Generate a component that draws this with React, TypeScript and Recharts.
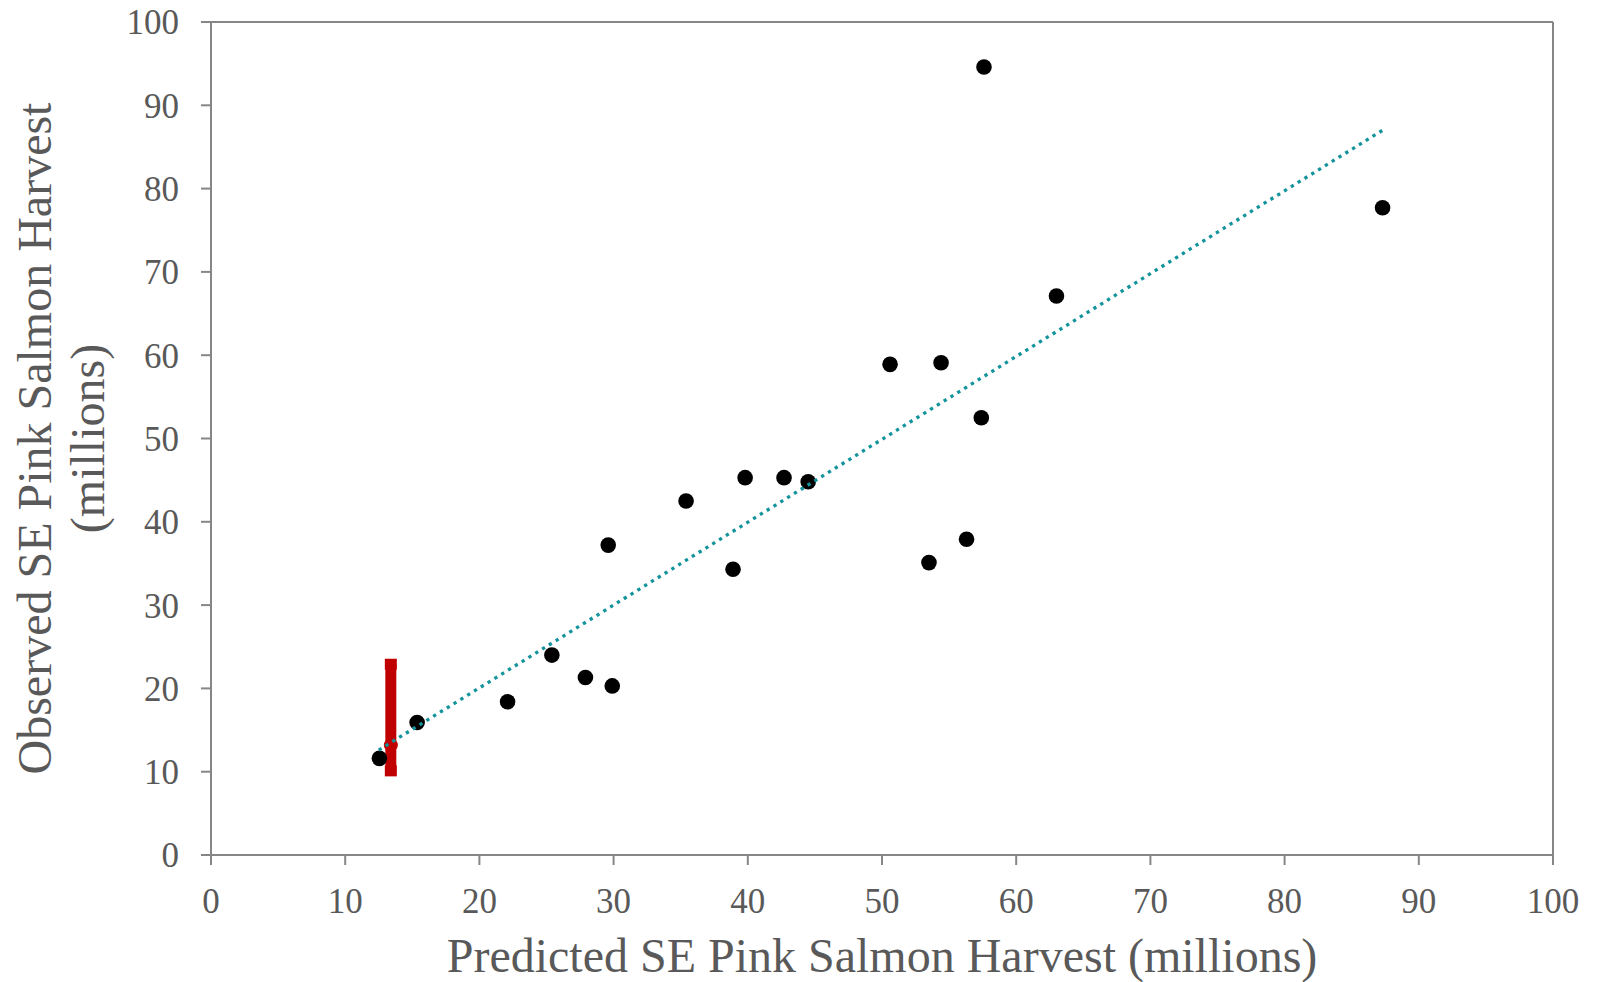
import {
  ScatterChart,
  Scatter,
  XAxis,
  YAxis,
  ErrorBar,
  ReferenceLine,
} from "recharts";

const predicted = [
  12.55, 15.36, 22.1, 25.4, 27.9, 29.9, 29.6, 35.4, 38.9, 39.8,
  42.7, 44.5, 50.6, 54.4, 53.5, 56.3, 57.4, 57.6, 63.0, 87.3,
];
const observed = [
  11.6, 15.9, 18.4, 24.0, 21.3, 20.3, 37.2, 42.5, 34.3, 45.3,
  45.3, 44.8, 58.9, 59.1, 35.1, 37.9, 52.5, 94.6, 67.1, 77.7,
];

// forecast point with its range
const forecastX = [13.4];
const forecastY = [13.2];
const forecastErr = [[3.1, 9.7]];

// dotted trend line end points
const trendX = [12.5, 87.3];
const trendY = [12.6, 87.0];

const ticks = [0, 10, 20, 30, 40, 50, 60, 70, 80, 90, 100];

const points = predicted.map((x, i) => ({ x, y: observed[i] }));
const forecast = forecastX.map((x, i) => ({ x, y: forecastY[i], err: forecastErr[i] }));
const trend = trendX.map((x, i) => ({ x, y: trendY[i] }));

const AXIS = "#868686";
const TEXT = "#595959";
const FONT = "Liberation Serif, Times New Roman, serif";

const XTitle = (props: any) => {
  const { x, y, width } = props.viewBox;
  return (
    <text x={x + width / 2} y={y + 117} textAnchor="middle" fill={TEXT} fontSize={48} fontFamily={FONT}>
      Predicted SE Pink Salmon Harvest (millions)
    </text>
  );
};

const YTitle = (props: any) => {
  const { y, height } = props.viewBox;
  const cy = y + height / 2;
  return (
    <g fill={TEXT} fontSize={48} fontFamily={FONT}>
      <text x={51} y={cy} textAnchor="middle" transform={`rotate(-90, 51, ${cy})`}>
        Observed SE Pink Salmon Harvest
      </text>
      <text x={104} y={cy} textAnchor="middle" transform={`rotate(-90, 104, ${cy})`}>
        (millions)
      </text>
    </g>
  );
};

export default function App() {
  return (
    <div style={{ position: "absolute", left: 0, top: 0, background: "#fff" }}>
      <ScatterChart
        width={1600}
        height={982}
        margin={{ top: 22, right: 47, bottom: 0, left: 0 }}
      >
        <XAxis
          type="number"
          dataKey="x"
          domain={[0, 100]}
          ticks={ticks}
          interval={0}
          height={127}
          tickSize={10}
          tickMargin={23}
          stroke={AXIS}
          strokeWidth={2}
          tick={{ fill: TEXT, fontSize: 35, fontFamily: FONT }}
          label={<XTitle />}
        />
        <YAxis
          type="number"
          dataKey="y"
          domain={[0, 100]}
          ticks={ticks}
          interval={0}
          width={211}
          tickSize={10}
          tickMargin={22}
          stroke={AXIS}
          strokeWidth={2}
          tick={{ fill: TEXT, fontSize: 35, fontFamily: FONT }}
          label={<YTitle />}
        />
        <ReferenceLine y={100} stroke={AXIS} strokeWidth={2} />
        <ReferenceLine x={100} stroke={AXIS} strokeWidth={2} />
        <Scatter data={points} fill="#000" isAnimationActive={false} shape={(p: any) => (
          <circle cx={p.cx} cy={p.cy} r={7.8} fill="#000" />
        )} />
        <Scatter data={forecast} fill="#C00000" isAnimationActive={false} shape={(p: any) => (
          <circle cx={p.cx} cy={p.cy} r={6.5} fill="#C00000" stroke="#C00000" strokeWidth={1} />
        )}>
          <ErrorBar dataKey="err" direction="y" width={6} strokeWidth={11} stroke="#C00000" isAnimationActive={false} />
        </Scatter>
        <Scatter
          data={trend}
          isAnimationActive={false}
          line={{ stroke: "#13939b", strokeWidth: 3.3, strokeDasharray: "3.3 4.7" }}
          shape={() => <g />}
        />
      </ScatterChart>
    </div>
  );
}
